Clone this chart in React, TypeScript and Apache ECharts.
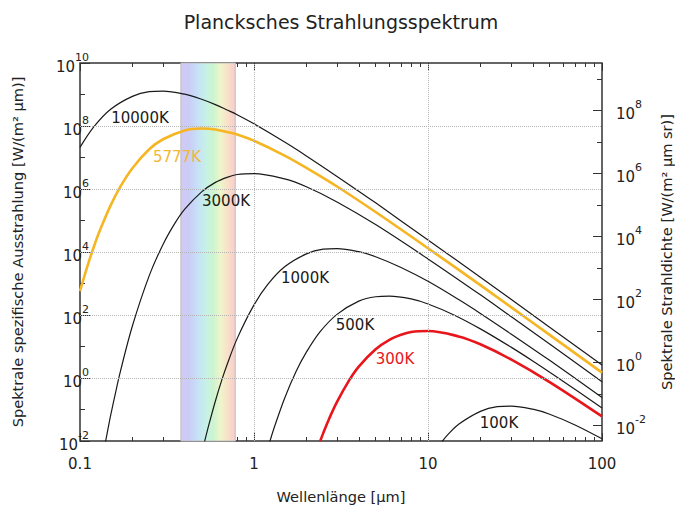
import React, { useEffect, useRef } from "react";
import * as echarts from "echarts";

// ---------- data (wavelength in µm, spectral exitance as log10 of W/(m² µm)) ----------
const wl10000 = [0.1, 0.12, 0.15, 0.2, 0.25, 0.3, 0.4, 0.5, 0.6, 0.7, 0.8, 1, 1.5, 2, 3, 5, 10, 20, 30, 50, 100];
const exp10000 = [7.32, 7.97, 8.53, 8.94, 9.09, 9.11, 9.01, 8.85, 8.68, 8.51, 8.36, 8.07, 7.49, 7.05, 6.4, 5.56, 4.38, 3.2, 2.5, 1.61, 0.41];

const wl5777 = [0.1, 0.11, 0.12, 0.13, 0.15, 0.17, 0.2, 0.25, 0.3, 0.4, 0.5, 0.6, 0.7, 0.8, 1, 1.5, 2, 3, 5, 10, 20, 30, 50, 100];
const exp5777 = [2.76, 3.53, 4.16, 4.68, 5.48, 6.06, 6.66, 7.26, 7.58, 7.86, 7.92, 7.89, 7.81, 7.73, 7.53, 7.06, 6.67, 6.08, 5.27, 4.12, 2.95, 2.25, 1.37, 0.17];

const wl3000 = [0.14, 0.145, 0.15, 0.16, 0.17, 0.2, 0.25, 0.3, 0.35, 0.4, 0.5, 0.6, 0.7, 0.8, 1, 1.5, 2, 3, 5, 10, 20, 30, 50, 100];
const exp3000 = [-2.04, -1.6, -1.19, -0.47, 0.17, 1.65, 3.25, 4.24, 4.9, 5.36, 5.91, 6.21, 6.37, 6.46, 6.49, 6.32, 6.07, 5.59, 4.87, 3.78, 2.64, 1.95, 1.08, -0.12];

const wl1000 = [0.52, 0.55, 0.6, 0.65, 0.7, 0.8, 1, 1.2, 1.5, 2, 2.5, 3, 4, 5, 7, 10, 15, 20, 30, 50, 100];
const exp1000 = [-2.02, -1.49, -0.73, -0.1, 0.42, 1.25, 2.32, 2.97, 3.53, 3.94, 4.09, 4.11, 4.01, 3.85, 3.51, 3.07, 2.49, 2.05, 1.4, 0.56, -0.62];

const wl500 = [1.23, 1.3, 1.5, 1.75, 2, 2.4, 3, 4, 5, 6, 8, 10, 14, 20, 30, 40, 60, 100];
const exp500 = [-2.04, -1.61, -0.64, 0.22, 0.82, 1.47, 2.02, 2.44, 2.58, 2.6, 2.51, 2.35, 2.01, 1.56, 0.98, 0.54, -0.11, -0.95];

const wl300 = [2.4, 2.5, 2.7, 3, 3.5, 4, 5, 6, 7, 8, 10, 15, 20, 30, 50, 100];
const exp300 = [-2.01, -1.75, -1.3, -0.76, -0.1, 0.36, 0.91, 1.21, 1.37, 1.46, 1.49, 1.32, 1.07, 0.59, -0.13, -1.22];

const wl100 = [12, 13, 15, 20, 25, 30, 40, 50, 70, 100];
const exp100 = [-2.03, -1.8, -1.47, -1.06, -0.91, -0.89, -0.99, -1.15, -1.49, -1.93];

const curveNames = ["10000K", "5777K", "3000K", "1000K", "500K", "300K", "100K"];

// visible band (µm)
const visibleBand = [0.38, 0.78];

// axis ticks
const xMajorTicks = [0.1, 1, 10, 100];
const xMinorTicks = [0.2, 0.3, 0.4, 0.5, 0.6, 0.7, 0.8, 0.9, 2, 3, 4, 5, 6, 7, 8, 9, 20, 30, 40, 50, 60, 70, 80, 90];
const xTickLabels = ["0.1", "1", "10", "100"];
const leftMajorExps = [-2, 0, 2, 4, 6, 8, 10];
const leftMinorExps = [-1, 1, 3, 5, 7, 9];
const rightMajorExps = [-2, 0, 2, 4, 6, 8];
const rightMinorExps = [-1, 1, 3, 5, 7, 9];
const gridExpsY = [0, 2, 4, 6, 8];
const gridWlX = [1, 10];

const FONT = "DejaVu Sans";
const LOG_PI = Math.log10(Math.PI);

export default function App() {
  const ref = useRef<HTMLDivElement>(null);

  useEffect(() => {
    if (!ref.current) return;
    const chart = echarts.init(ref.current, null, { renderer: "svg" });

    const lg = (v: number) => Math.log10(v);
    const mk = (wl: number[], ex: number[]) => wl.map((w, i) => [lg(w), ex[i]]);

    const curveData = [
      mk(wl10000, exp10000),
      mk(wl5777, exp5777),
      mk(wl3000, exp3000),
      mk(wl1000, exp1000),
      mk(wl500, exp500),
      mk(wl300, exp300),
      mk(wl100, exp100),
    ];
    const curveColors = ["#1a1a1a", "#f6b623", "#1a1a1a", "#1a1a1a", "#1a1a1a", "#e8161b", "#1a1a1a"];
    const curveWidths = [1.2, 2.6, 1.2, 1.2, 1.2, 2.6, 1.2];

    const tickColor = "#333";
    const hiddenLine = { show: false, onZero: false };
    const xBase: any = {
      type: "value",
      min: -1,
      max: 2,
      splitLine: { show: false },
      axisLine: hiddenLine,
    };
    const supRich = {
      b: { fontSize: 15, lineHeight: 22, verticalAlign: "bottom", color: "#222", fontFamily: FONT },
      s: { fontSize: 11, lineHeight: 11, verticalAlign: "top", color: "#222", fontFamily: FONT },
    };
    const expLabel = (v: number) => `{b|10}{s|${Math.round(v)}}`;

    const xLabel = (v: number) => {
      const i = xMajorTicks.findIndex((t) => Math.abs(lg(t) - v) < 1e-6);
      return i >= 0 ? xTickLabels[i] : "";
    };

    const option: any = {
      animation: false,
      backgroundColor: "#fff",
      textStyle: { fontFamily: FONT },
      grid: {
        left: 80,
        right: 73,
        top: 63,
        bottom: 64,
        outerBoundsMode: "none",
        containLabel: false,
        show: true,
        borderColor: "#333",
        borderWidth: 1.5,
        backgroundColor: "transparent",
      },
      xAxis: [
        {
          ...xBase,
          position: "bottom",
          axisTick: { inside: true, length: 8, customValues: xMajorTicks.map(lg), lineStyle: { color: tickColor } },
          axisLabel: {
            customValues: xMajorTicks.map(lg),
            formatter: xLabel,
            fontSize: 15,
            color: "#222",
            margin: 15,
            fontFamily: FONT,
          },
          name: "Wellenlänge [µm]",
          nameLocation: "middle",
          nameGap: 48,
          nameTextStyle: { fontSize: 14.6, color: "#222", fontFamily: FONT },
        },
        {
          ...xBase,
          position: "bottom",
          axisTick: { inside: true, length: 4, customValues: xMinorTicks.map(lg), lineStyle: { color: tickColor } },
          axisLabel: { show: false },
        },
        {
          ...xBase,
          position: "top",
          axisTick: { inside: true, length: 8, customValues: xMajorTicks.map(lg), lineStyle: { color: tickColor } },
          axisLabel: { show: false },
        },
        {
          ...xBase,
          position: "top",
          axisTick: { inside: true, length: 4, customValues: xMinorTicks.map(lg), lineStyle: { color: tickColor } },
          axisLabel: { show: false },
        },
      ],
      yAxis: [
        {
          type: "value",
          min: -2,
          max: 10,
          position: "left",
          splitLine: { show: false },
          axisLine: hiddenLine,
          axisTick: { inside: true, length: 10, customValues: leftMajorExps, lineStyle: { color: tickColor } },
          axisLabel: {
            customValues: leftMajorExps,
            formatter: expLabel,
            rich: supRich,
            margin: -9,
            align: "right",
          },
          name: "Spektrale spezifische Ausstrahlung [W/(m² µm)]",
          nameLocation: "middle",
          nameGap: 55,
          nameRotate: 90,
          nameTextStyle: { fontSize: 14.6, color: "#222", fontFamily: FONT },
        },
        {
          type: "value",
          min: -2,
          max: 10,
          position: "left",
          splitLine: { show: false },
          axisLine: hiddenLine,
          axisTick: { inside: true, length: 5, customValues: leftMinorExps, lineStyle: { color: tickColor } },
          axisLabel: { show: false },
        },
        {
          type: "value",
          min: -2 - LOG_PI,
          max: 10 - LOG_PI,
          position: "right",
          splitLine: { show: false },
          axisLine: hiddenLine,
          axisTick: { inside: true, length: 9, customValues: rightMajorExps, lineStyle: { color: tickColor } },
          axisLabel: {
            customValues: rightMajorExps,
            formatter: expLabel,
            rich: supRich,
            margin: 14,
            align: "left",
          },
          name: "Spektrale Strahldichte [W/(m² µm sr)]",
          nameLocation: "middle",
          nameGap: 57,
          nameRotate: 90,
          nameTextStyle: { fontSize: 14.6, color: "#222", fontFamily: FONT },
        },
        {
          type: "value",
          min: -2 - LOG_PI,
          max: 10 - LOG_PI,
          position: "right",
          splitLine: { show: false },
          axisLine: hiddenLine,
          axisTick: { inside: true, length: 5, customValues: rightMinorExps, lineStyle: { color: tickColor } },
          axisLabel: { show: false },
        },
      ],
      series: [
        {
          type: "line",
          name: "bg",
          xAxisIndex: 0,
          yAxisIndex: 0,
          data: [],
          silent: true,
          markArea: {
            silent: true,
            itemStyle: {
              color: new echarts.graphic.LinearGradient(0, 0, 1, 0, [
                { offset: 0, color: "#d3c9f4" },
                { offset: 0.15, color: "#cacdf6" },
                { offset: 0.32, color: "#c6e2f7" },
                { offset: 0.47, color: "#c6f2e4" },
                { offset: 0.6, color: "#cdf4cf" },
                { offset: 0.73, color: "#eef5cb" },
                { offset: 0.86, color: "#f9e1c8" },
                { offset: 1, color: "#f7cccc" },
              ]),
              opacity: 1,
              borderColor: "#bdbdbd",
              borderWidth: 1,
            },
            data: [[{ xAxis: lg(visibleBand[0]) }, { xAxis: lg(visibleBand[1]) }]],
          },
          markLine: {
            silent: true,
            symbol: "none",
            label: { show: false },
            lineStyle: { color: "#b5b5b5", type: "dotted", width: 1 },
            data: [
              ...gridExpsY.map((v) => ({ yAxis: v })),
              ...gridWlX.map((w) => ({ xAxis: lg(w) })),
            ],
          },
        },
        ...curveNames.map((name, i) => ({
          type: "line",
          name,
          xAxisIndex: 0,
          yAxisIndex: 0,
          data: curveData[i],
          smooth: 0.35,
          showSymbol: false,
          symbol: "none",
          clip: true,
          lineStyle: { color: curveColors[i], width: curveWidths[i] },
          z: i === 1 || i === 5 ? 4 : 3,
        })),
      ],
      graphic: [
        {
          type: "text",
          x: 341,
          y: 22,
          style: { text: "Plancksches Strahlungsspektrum", fontSize: 19, fill: "#222", align: "center", verticalAlign: "middle", fontFamily: FONT },
        },
        ...[
          { t: curveNames[0], x: 140, y: 118, c: "#1a1a1a" },
          { t: curveNames[1], x: 177, y: 157, c: "#f3b732" },
          { t: curveNames[2], x: 226, y: 201, c: "#1a1a1a" },
          { t: curveNames[3], x: 305, y: 278, c: "#1a1a1a" },
          { t: curveNames[4], x: 355, y: 325, c: "#1a1a1a" },
          { t: curveNames[5], x: 395, y: 359, c: "#e8161b" },
          { t: curveNames[6], x: 499, y: 423, c: "#1a1a1a" },
        ].map((l) => ({
          type: "text",
          x: l.x,
          y: l.y,
          z: 10,
          style: { text: l.t, fontSize: 15, fill: l.c, align: "center", verticalAlign: "middle", fontFamily: FONT },
        })),
      ],
    };

    chart.setOption(option);
    return () => chart.dispose();
  }, []);

  return (
    <div
      ref={ref}
      style={{ position: "fixed", left: 0, top: 0, width: 675, height: 505, background: "#fff" }}
    />
  );
}
